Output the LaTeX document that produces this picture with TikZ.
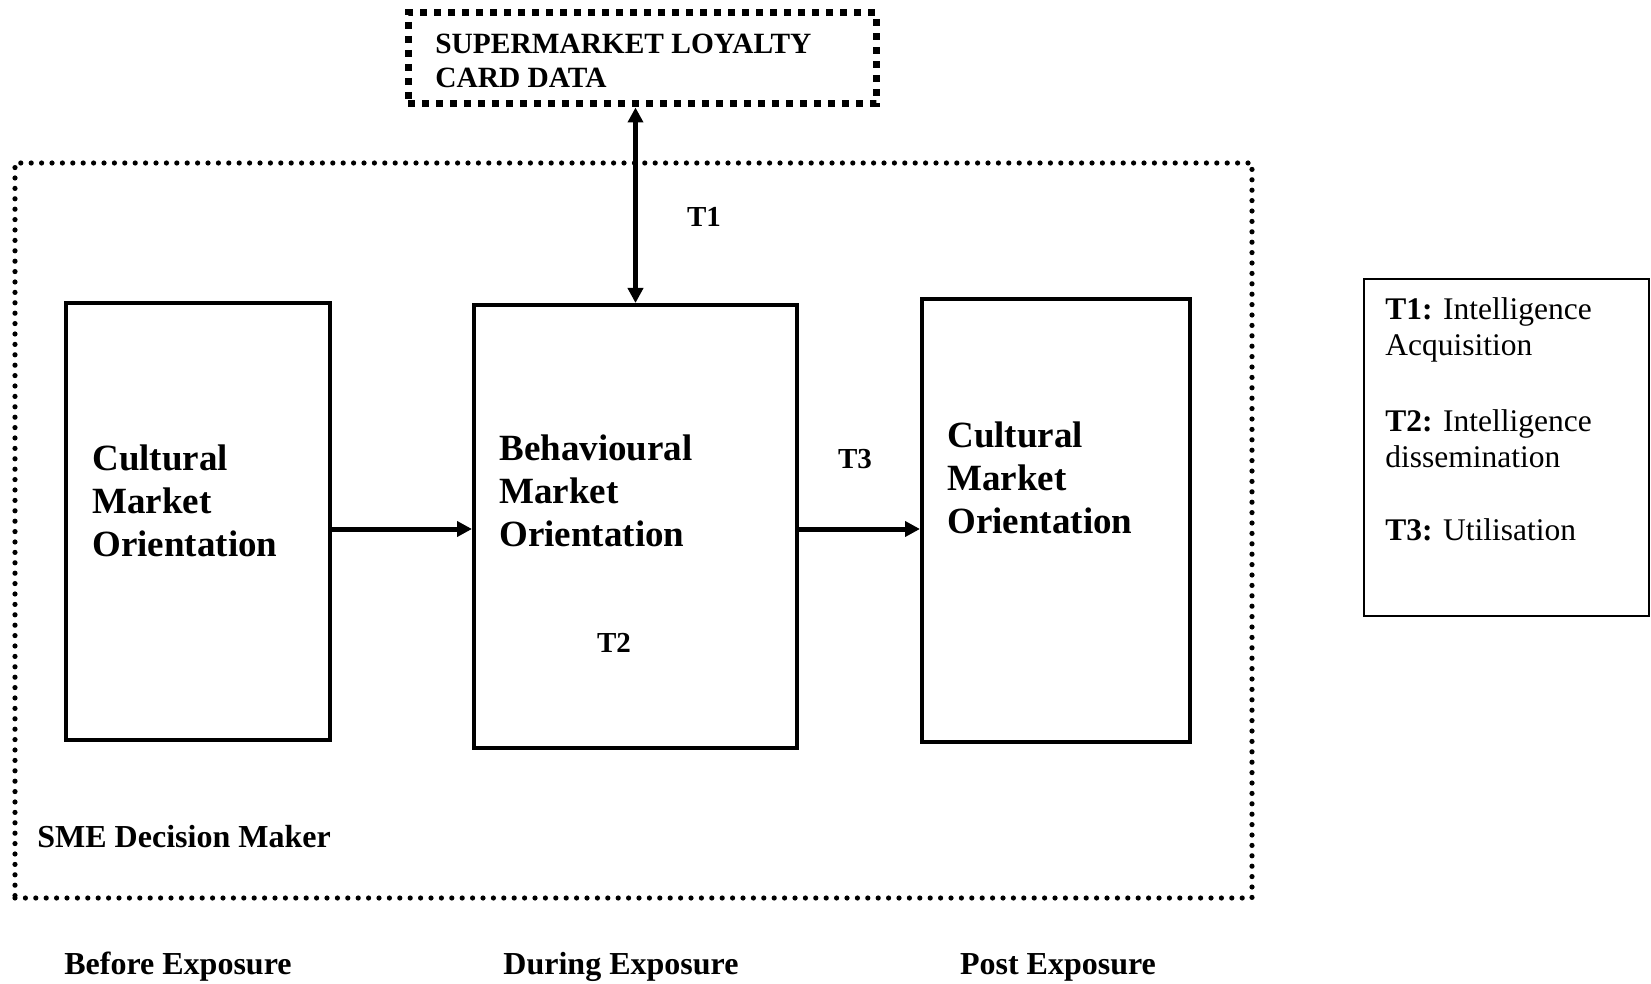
\documentclass[tikz,border=0pt]{standalone}
\usepackage{fontspec}
\setmainfont{Liberation Serif}
\usetikzlibrary{arrows.meta}
\begin{document}
\begin{tikzpicture}[x=0.5pt,y=-0.5pt,
  stagebox/.style={draw, line width=2pt, inner sep=0pt},
  legendbox/.style={draw, line width=1pt, inner sep=0pt},
  sourcebox/.style={draw, line width=3.5pt, line cap=butt, dash pattern=on 3.5pt off 3.5pt, inner sep=0pt},
  framebox/.style={draw, line width=2.6pt, line cap=round, dash pattern=on 0pt off 5.2pt, inner sep=0pt},
  boxtext/.style={font=\bfseries\fontsize{18.5}{21.5}\selectfont, align=left, inner sep=0pt},
  srctext/.style={font=\bfseries\fontsize{14.7}{17}\selectfont, align=left, inner sep=0pt},
  tlabel/.style={font=\bfseries\fontsize{14.5}{17}\selectfont, inner sep=0pt},
  phase/.style={font=\bfseries\fontsize{16}{19}\selectfont, inner sep=0pt},
  legtext/.style={font=\fontsize{15.75}{18}\selectfont, align=left, inner sep=0pt},
  arr/.style={line width=2.5pt, -{Triangle[length=7.5pt,width=7.5pt]}},
  dblarr/.style={line width=2.5pt, {Triangle[length=7.5pt,width=7.5pt]}-{Triangle[length=7.5pt,width=7.5pt]}}]

% page extent
\useasboundingbox (0,0) rectangle (1651,984);

% SME decision maker frame
\node[framebox, minimum width=618.5pt, minimum height=367.5pt] (frame) at (633.5,530.5) {};
\node[phase, anchor=west] (sme) at (37,837) {SME Decision Maker};

% loyalty card data source
\node[sourcebox, minimum width=234pt, minimum height=45.5pt] (card) at (642,58.5) {};
\node[srctext, anchor=west] (cardtxt) at (435,61) {SUPERMARKET LOYALTY\\CARD DATA};

% three stages
\node[stagebox, minimum width=132pt, minimum height=218.5pt] (before) at (198,521.5) {};
\node[stagebox, minimum width=161.5pt, minimum height=221.5pt] (during) at (635.5,526.5) {};
\node[stagebox, minimum width=134pt, minimum height=221.5pt] (post) at (1056,520.5) {};

\node[boxtext, anchor=west] (beforetxt) at (92,501) {Cultural\\Market\\Orientation};
\node[boxtext, anchor=west] (duringtxt) at (499,491) {Behavioural\\Market\\Orientation};
\node[boxtext, anchor=west] (posttxt) at (947,478) {Cultural\\Market\\Orientation};

% connectors
\coordinate (flow) at (0,529);
\draw[dblarr] (card.south -| during.north) -- (during.north);
\draw[arr] (before.east |- flow) -- (during.west |- flow);
\draw[arr] (during.east |- flow) -- (post.west |- flow);

\node[tlabel] (t1) at (704,217) {T1};
\node[tlabel] (t2) at (614,643) {T2};
\node[tlabel] (t3) at (855,459) {T3};

% phase captions
\node[phase] (ph1) at (178,967) {Before Exposure};
\node[phase] (ph2) at (621,967) {During Exposure};
\node[phase] (ph3) at (1058,967) {Post Exposure};

% legend
\node[legendbox, minimum width=142.5pt, minimum height=168.5pt] (legend) at (1506.5,447.5) {};
\node[legtext, anchor=west] (leg1) at (1385,330) {\textbf{T1:} Intelligence\\Acquisition};
\node[legtext, anchor=west] (leg2) at (1385,439) {\textbf{T2:} Intelligence\\dissemination};
\node[legtext, anchor=west] (leg3) at (1385,530) {\textbf{T3:} Utilisation};
\end{tikzpicture}
\end{document}
